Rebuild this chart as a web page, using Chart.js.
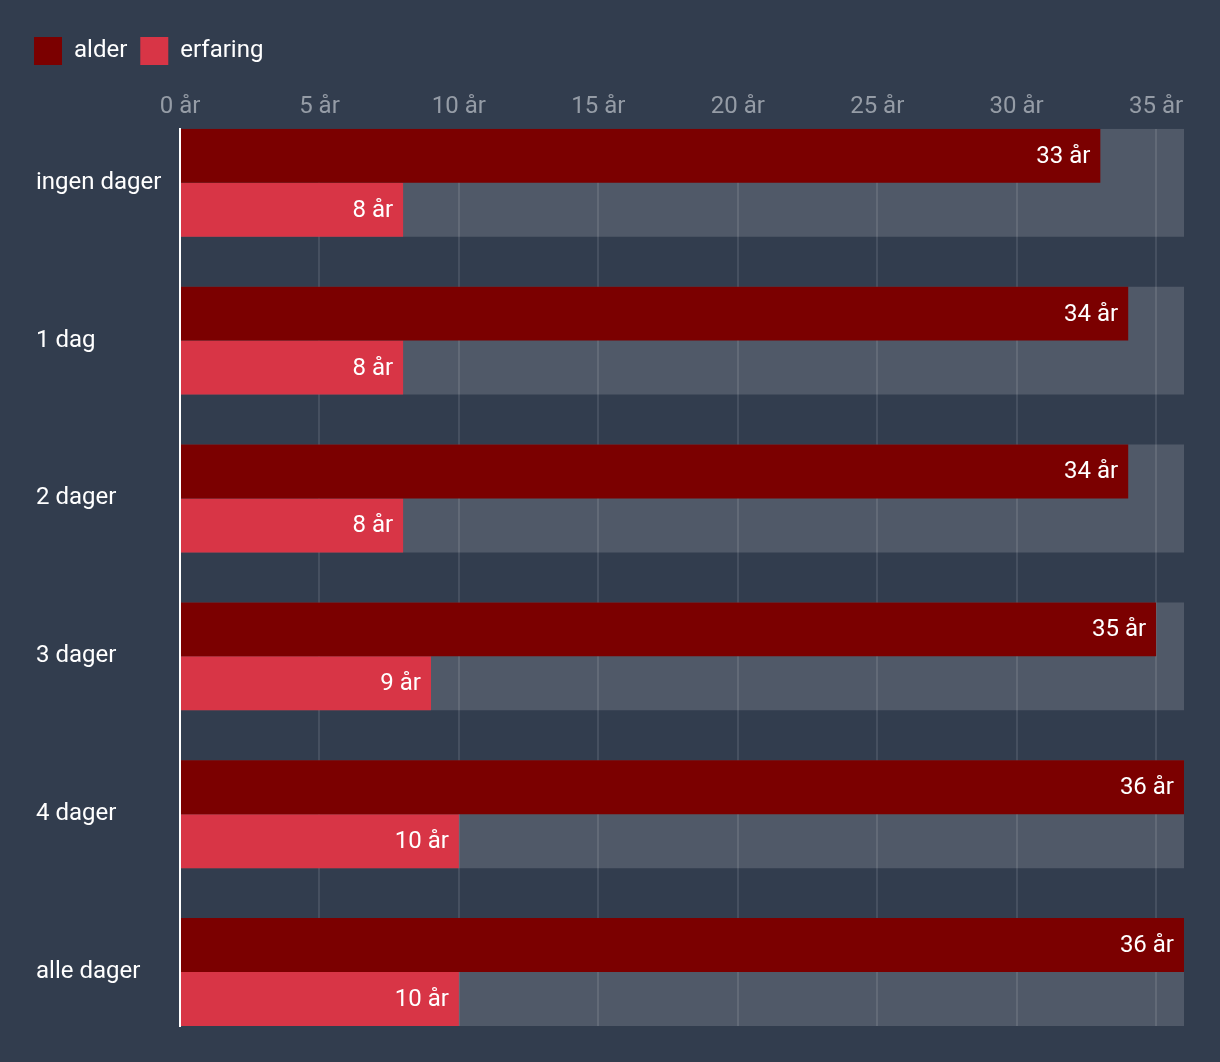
<!DOCTYPE html>
<html>
<head>
<meta charset="utf-8">
<script src="https://cdn.jsdelivr.net/npm/chart.js@4.4.1/dist/chart.umd.min.js"></script>
<style>
  html, body { margin: 0; padding: 0; background: #323d4e; }
  #wrap { width: 1220px; height: 1062px; }
</style>
</head>
<body>
<div id="wrap"><canvas id="chart"></canvas></div>
<script>
const categories = ['ingen dager', '1 dag', '2 dager', '3 dager', '4 dager', 'alle dager'];
const alder = [33, 34, 34, 35, 36, 36];
const erfaring = [8, 8, 8, 9, 10, 10];
const track = [36, 36, 36, 36, 36, 36];
const xTicks = [0, 5, 10, 15, 20, 25, 30, 35];

const GROUP = 0.6835; // share of each row taken by the bar pair
const LEGEND_PAD = 13;

Chart.defaults.font.family = 'Roboto';

// values written at the end of each bar
const barLabels = {
  id: 'barLabels',
  afterDatasetsDraw(chart) {
    const ctx = chart.ctx;
    ctx.save();
    ctx.font = '24px Roboto';
    ctx.fillStyle = '#ffffff';
    ctx.textAlign = 'right';
    ctx.textBaseline = 'middle';
    [0, 1].forEach(di => {
      const values = chart.data.datasets[di].data;
      chart.getDatasetMeta(di).data.forEach((bar, i) => {
        ctx.fillText(values[i] + ' år', bar.x - 10, bar.y + 1);
      });
    });
    ctx.restore();
  }
};

// move legend so it starts a bit left of the axis labels
const legendShift = {
  id: 'legendShift',
  afterLayout(chart) {
    const lg = chart.legend;
    if (lg) { lg.left -= LEGEND_PAD + 2; lg.right -= LEGEND_PAD + 2; }
  }
};

new Chart(document.getElementById('chart'), {
  type: 'bar',
  data: {
    labels: categories,
    datasets: [
      { label: 'alder', data: alder, backgroundColor: '#7b0000', order: 0 },
      { label: 'erfaring', data: erfaring, backgroundColor: '#d83546', order: 0 },
      { label: 'track', data: track, backgroundColor: 'rgba(255,255,255,0.15)', grouped: false, order: 1 }
    ]
  },
  options: {
    indexAxis: 'y',
    responsive: true,
    maintainAspectRatio: false,
    animation: false,
    categoryPercentage: GROUP,
    barPercentage: 1,
    layout: { padding: { left: 36, right: 36, top: 24, bottom: 36 } },
    scales: {
      x: {
        position: 'top',
        min: 0,
        max: 36,
        afterBuildTicks: s => { s.ticks = xTicks.map(v => ({ value: v })); },
        afterFit: s => { s.height += 11; },
        ticks: {
          color: '#959ca6',
          font: { size: 24 },
          padding: 7,
          callback: v => v + ' år'
        },
        grid: { color: 'rgba(255,255,255,0.1)', lineWidth: 2, drawTicks: false },
        border: { display: false }
      },
      y: {
        afterBuildTicks: s => {
          s._startValue = -GROUP / 2;
          s._valueRange = categories.length - 1 + GROUP;
        },
        afterFit: s => { s.width = 144; },
        ticks: {
          color: '#ffffff',
          font: { size: 24 },
          crossAlign: 'far'
        },
        grid: { display: false },
        border: { display: true, color: '#ffffff', width: 2, z: 1 }
      }
    },
    plugins: {
      legend: {
        align: 'start',
        labels: {
          boxWidth: 28,
          boxHeight: 28,
          color: '#ffffff',
          font: { size: 24 },
          padding: LEGEND_PAD,
          filter: item => item.text !== 'track'
        }
      },
      tooltip: { enabled: false }
    }
  },
  plugins: [barLabels, legendShift]
});
</script>
</body>
</html>
